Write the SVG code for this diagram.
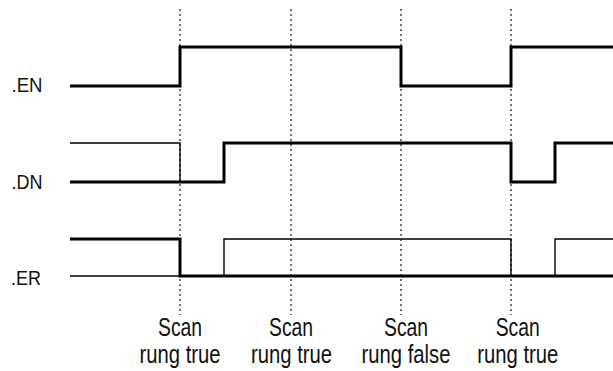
<svg xmlns="http://www.w3.org/2000/svg" width="613" height="371" viewBox="0 0 613 371">
  <style>
    .bg { fill: #ffffff; }
    .grid { stroke: #444444; stroke-width: 1.5; stroke-dasharray: 2 3; fill: none; }
    .thick { stroke: #000000; stroke-width: 3; fill: none; stroke-linejoin: miter; stroke-linecap: butt; }
    .thin { stroke: #000000; stroke-width: 1.4; fill: none; stroke-linejoin: miter; stroke-linecap: butt; }
    .sig { font-family: "Liberation Sans Narrow", "Liberation Sans", Arial, sans-serif; font-size: 21px; fill: #111111; }
    .note { font-family: "Liberation Sans Narrow", "Liberation Sans", Arial, sans-serif; font-size: 25px; fill: #111111; text-anchor: middle; }
  </style>
  <rect class="bg" x="0" y="0" width="613" height="371"/>

  <!-- scan markers -->
  <g id="markers">
    <line class="grid" x1="180" y1="9" x2="180" y2="315"/>
    <line class="grid" x1="291" y1="9" x2="291" y2="315"/>
    <line class="grid" x1="401" y1="9" x2="401" y2="315"/>
    <line class="grid" x1="511" y1="9" x2="511" y2="315"/>
  </g>

  <!-- waveforms -->
  <g id="connectors">
    <g id="wave-en">
      <path class="thick" d="M70 86 H180 V47 H401 V86 H511 V47 H613"/>
    </g>
    <g id="wave-dn">
      <path class="thin" d="M70 143 H180 V182"/>
      <path class="thick" d="M70 182 H224 V143 H511 V182 H555 V143 H613"/>
    </g>
    <g id="wave-er">
      <path class="thin" d="M70 276 H180"/>
      <path class="thin" d="M224 276 V239 H511 V276"/>
      <path class="thin" d="M555 276 V239 H613"/>
      <path class="thick" d="M70 239 H180 V276 H613"/>
    </g>
  </g>

  <!-- signal names -->
  <g id="label-en"><text class="sig" x="11.5" y="92" textLength="31" lengthAdjust="spacingAndGlyphs">.EN</text></g>
  <g id="label-dn"><text class="sig" x="11.5" y="189" textLength="31" lengthAdjust="spacingAndGlyphs">.DN</text></g>
  <g id="label-er"><text class="sig" x="11" y="284.5" textLength="30" lengthAdjust="spacingAndGlyphs">.ER</text></g>

  <!-- scan captions -->
  <g id="caption-1">
    <text class="note" x="180" y="336" textLength="44" lengthAdjust="spacingAndGlyphs">Scan</text>
    <text class="note" x="180" y="363" textLength="81" lengthAdjust="spacingAndGlyphs">rung true</text>
  </g>
  <g id="caption-2">
    <text class="note" x="291" y="336" textLength="44" lengthAdjust="spacingAndGlyphs">Scan</text>
    <text class="note" x="291.5" y="363" textLength="81" lengthAdjust="spacingAndGlyphs">rung true</text>
  </g>
  <g id="caption-3">
    <text class="note" x="406" y="336" textLength="44" lengthAdjust="spacingAndGlyphs">Scan</text>
    <text class="note" x="406" y="363" textLength="89" lengthAdjust="spacingAndGlyphs">rung false</text>
  </g>
  <g id="caption-4">
    <text class="note" x="517.7" y="336" textLength="44" lengthAdjust="spacingAndGlyphs">Scan</text>
    <text class="note" x="517.8" y="363" textLength="81" lengthAdjust="spacingAndGlyphs">rung true</text>
  </g>
</svg>
